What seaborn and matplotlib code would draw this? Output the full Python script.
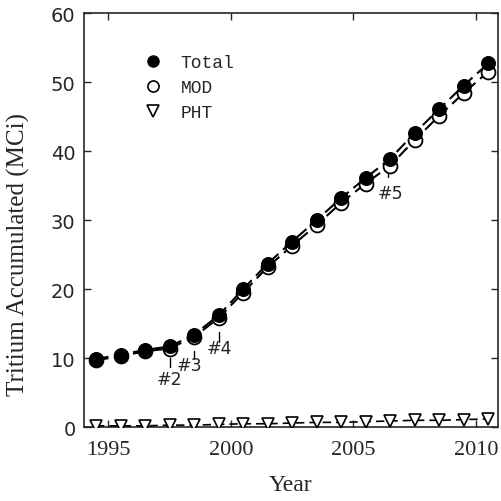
import matplotlib
matplotlib.use('Agg')
import matplotlib.pyplot as plt
from matplotlib.lines import Line2D
import seaborn as sns
import numpy as np

sns.set_style('ticks')
plt.rcParams['font.family'] = ['Liberation Serif', 'DejaVu Serif']

# fiscal-year midpoints
years = [1994.5, 1995.5, 1996.5, 1997.5, 1998.5, 1999.5, 2000.5, 2001.5, 2002.5,
         2003.5, 2004.5, 2005.5, 2006.5, 2007.5, 2008.5, 2009.5, 2010.5]
total = [9.9, 10.5, 11.2, 11.7, 13.4, 16.2, 20.0, 23.7, 26.9,
         30.0, 33.2, 36.1, 38.9, 42.6, 46.1, 49.5, 52.7]
mod = [9.7, 10.3, 11.0, 11.4, 13.1, 15.8, 19.5, 23.2, 26.3,
       29.3, 32.5, 35.3, 37.9, 41.6, 45.1, 48.4, 51.5]
pht = [0.2, 0.2, 0.2, 0.3, 0.3, 0.4, 0.5, 0.5, 0.6,
       0.7, 0.7, 0.8, 0.9, 1.0, 1.0, 1.1, 1.2]

# shot markers: label, x, line top, line bottom, text y
shot_labels = ['#2', '#3', '#4', '#5']
shot_x = [1997.5, 1998.5, 1999.5, 2006.4]
shot_top = [10.0, 11.0, 13.8, 37.7]
shot_bot = [8.7, 9.9, 12.3, 36.2]
shot_text_y = [7.0, 9.0, 11.5, 33.9]
shot_text_x = [1997.5, 1998.3, 1999.55, 2006.5]

fig = plt.figure(figsize=(5.02, 5.02), dpi=100)
ax = fig.add_axes([0.167, 0.147, 0.825, 0.825])

sns.lineplot(x=years, y=pht, ax=ax, color='black', linestyle=(0, (5, 3)), lw=1.2,
             marker='v', markersize=9, markerfacecolor='white',
             markeredgecolor='black', markeredgewidth=1.2, zorder=3)
sns.lineplot(x=years, y=mod, ax=ax, color='black', linestyle=(0, (6, 3)), lw=1.5,
             marker='o', markersize=10, markerfacecolor='white',
             markeredgecolor='black', markeredgewidth=1.3, zorder=3)
sns.lineplot(x=years, y=total, ax=ax, color='black', linestyle=(0, (6, 3)), lw=1.5,
             marker='o', markersize=10, markerfacecolor='black',
             markeredgecolor='black', zorder=4)

for lab, x, t, b, ty, tx in zip(shot_labels, shot_x, shot_top, shot_bot,
                                shot_text_y, shot_text_x):
    ax.plot([x, x], [b, t], color='black', lw=1)
    ax.text(tx, ty, lab, ha='center', va='center', fontsize=12.5,
            family=['DejaVu Sans'])

ax.set_xlim(1994, 2010.9)
ax.set_ylim(0, 60)
ax.set_xticks([1995, 2000, 2005, 2010])
ax.set_yticks([0, 10, 20, 30, 40, 50, 60])
ax.tick_params(direction='in', top=True, right=True, length=5, width=1,
               labelsize=16, pad=9)
ax.tick_params(axis='y', pad=6)
for lbl in ax.get_yticklabels():
    lbl.set_family(['DejaVu Sans'])
    lbl.set_fontsize(14)
for s in ax.spines.values():
    s.set_linewidth(1.2)
    s.set_visible(True)

ax.set_xlabel('Year', fontsize=17, labelpad=11)
ax.set_ylabel('Tritium Accumulated (MCi)', fontsize=18, va='center')
ax.yaxis.set_label_coords(-0.158, 0.42)

handles = [
    Line2D([], [], ls='none', marker='o', color='black', markersize=8),
    Line2D([], [], ls='none', marker='o', markerfacecolor='white',
           markeredgecolor='black', markersize=8, markeredgewidth=1.2),
    Line2D([], [], ls='none', marker='v', markerfacecolor='white',
           markeredgecolor='black', markersize=8, markeredgewidth=1.2),
]
ax.legend(handles, ['Total', 'MOD', 'PHT'], loc='upper left',
          bbox_to_anchor=(0.085, 0.94), frameon=False, handletextpad=0.5,
          labelspacing=0.45, prop={'family': 'Liberation Mono', 'size': 13})

fig.savefig('out.png', dpi=100, facecolor='white')
